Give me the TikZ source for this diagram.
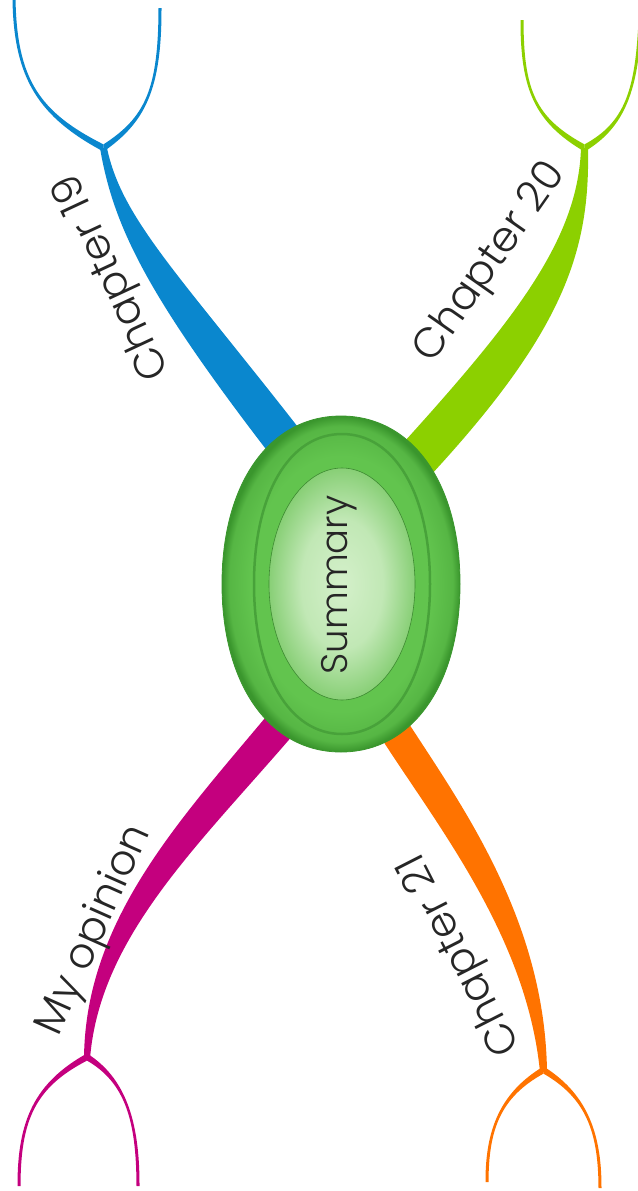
\documentclass[tikz,border=0pt]{standalone}
\usepackage{fontspec}
\setmainfont{Poppins Light}
\usetikzlibrary{calc}
\definecolor{chblue}{RGB}{10,135,206}
\definecolor{chlime}{RGB}{140,208,0}
\definecolor{chmagenta}{RGB}{196,0,126}
\definecolor{chorange}{RGB}{255,115,0}
\definecolor{hubdark}{RGB}{58,150,45}
\definecolor{hubmid}{RGB}{98,196,78}
\definecolor{hubring}{RGB}{72,162,58}
\definecolor{corelight}{RGB}{212,240,202}
\definecolor{coredeep}{RGB}{136,207,118}
\pgfdeclareradialshading{hubshade}{\pgfpoint{0bp}{0bp}}{color(0bp)=(hubmid); color(19bp)=(hubmid); color(23.5bp)=(hubmid!70!hubdark); color(25bp)=(hubdark); color(50bp)=(hubdark)}
\pgfdeclareradialshading{coreshade}{\pgfpoint{0bp}{0bp}}{color(0bp)=(corelight); color(14bp)=(corelight!75!coredeep); color(25bp)=(coredeep); color(50bp)=(coredeep)}
\def\limb[#1](#2)(#3)(#4)(#5)(#6)(#7)(#8)(#9){\fill[#1] (#2) .. controls (#3) and (#4) .. (#5) -- (#9) .. controls (#8) and (#7) .. (#6) -- cycle;}
\def\twig[#1]#2(#3)(#4)(#5)(#6){\fill[#1] ($(#3)+(0,#2*3.6)$) .. controls ($(#4)+(0,#2*2.6)$) and ($(#5)+(1.7,0)$) .. ($(#6)+(1.5,0)$) -- ($(#6)+(-1.5,0)$) .. controls ($(#5)+(-1.7,0)$) and ($(#4)+(0,-#2*2.6)$) .. ($(#3)+(0,-#2*3.6)$) -- cycle;}
\def\egg[#1](#2,#3)(#4:#5){\path[#1] ({#2+#4},#3) .. controls ({#2+#4},{#3-0.6*#5}) and ({#2+0.6*#4},{#3-#5}) .. (#2,{#3-#5}) .. controls ({#2-0.6*#4},{#3-#5}) and ({#2-#4},{#3-0.6*#5}) .. ({#2-#4},#3) .. controls ({#2-#4},{#3+0.6*#5}) and ({#2-0.6*#4},{#3+#5}) .. (#2,{#3+#5}) .. controls ({#2+0.6*#4},{#3+#5}) and ({#2+#4},{#3+0.6*#5}) .. ({#2+#4},#3) -- cycle;}
\tikzset{
  chaptertext/.style={text=black!85, font=\fontsize{42}{48}\selectfont, anchor=base, inner sep=0pt}
}

\begin{document}
\begin{tikzpicture}[x=1pt,y=-1pt]
		%%%%% START %%%%%
		\useasboundingbox (0,0) rectangle (637,1191);
		
		\coordinate (fork19) at (103.5,148);
		\coordinate (fork20) at (584.5,148);
		\coordinate (forkop) at (87,1057);
		\coordinate (fork21) at (543.5,1070);
		
		% Chapter 19
		\limb[chblue](100,148)(114,230)(150,300)(282,470)(107,148)(122,220)(180,275)(308,440);
		\twig[chblue]{-1}(fork19)(40,115)(15,80)(14,-2);
		\twig[chblue]{1}(fork19)(145,120)(160,90)(160,8);
		
		% Chapter 20
		\limb[chlime](581,148)(578,240)(515,320)(395,452)(588,148)(590,250)(565,330)(430,476);
		\twig[chlime]{-1}(fork20)(535,120)(522,90)(522,20);
		\twig[chlime]{1}(fork20)(625,125)(637,90)(640,20);
		
		% My opinion
		\limb[chmagenta](270,712)(180,820)(85,920)(84,1059)(310,715)(210,835)(100,930)(90,1059);
		\twig[chmagenta]{1}(forkop)(35,1085)(19,1120)(19,1186);
		\twig[chmagenta]{-1}(forkop)(125,1080)(138,1120)(138,1186);
		
		% Chapter 21
		\limb[chorange](361,705)(415,800)(525,920)(540,1072)(397,705)(450,790)(545,910)(547,1072);
		\twig[chorange]{1}(fork21)(500,1095)(487,1130)(487,1182);
		\twig[chorange]{-1}(fork21)(585,1095)(600,1130)(600,1188);
		
		% hub
		\egg[shade, shading=hubshade, draw=hubdark, line width=0.8pt](341,584)(119:168);
		\egg[draw=hubring, line width=2.5pt](342,584)(88:150);
		\shade[shading=coreshade] (342,584) ellipse [x radius=73, y radius=116];
		\draw[hubring!85!black, line width=0.6pt] (342,584) ellipse [x radius=73, y radius=116];
		
		\node[chaptertext, font=\fontsize{37}{44}\selectfont, rotate=90] (summary) at (347,585) {Summary};
		\node[chaptertext, rotate=115] (ch19) at (122.5,272) {Chapter 19};
		\node[chaptertext, rotate=55] (ch20) at (499.6,268.7) {Chapter 20};
		\node[chaptertext, rotate=66] (opinion) at (104.6,934.5) {My opinion};
		\node[chaptertext, rotate=117] (ch21) at (470.3,949.7) {Chapter 21};
		
		%%%%% END %%%%%
\end{tikzpicture}
\end{document}
